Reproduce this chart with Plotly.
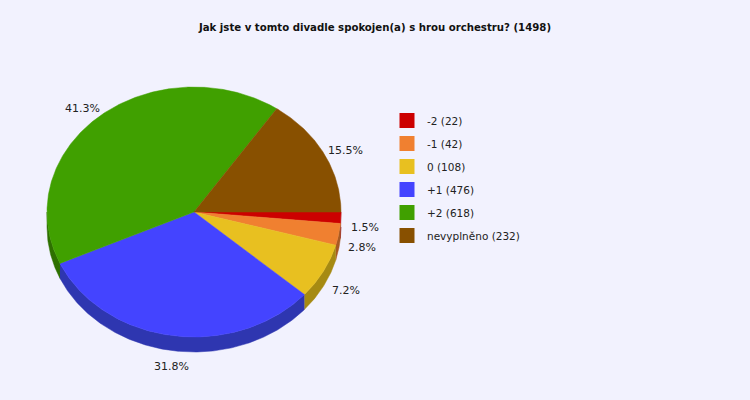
import numpy as np
import plotly.graph_objects as go

title = "Jak jste v tomto divadle spokojen(a) s hrou orchestru? (1498)"
categories = ["-2", "-1", "0", "+1", "+2", "nevyplněno"]
counts = [22, 42, 108, 476, 618, 232]
top_colors = ["#cc0000", "#f08030", "#e8c020", "#4444ff", "#40a000", "#885000"]
side_colors = ["#8e0000", "#a85a22", "#a68a12", "#2e36b0", "#2e7000", "#5f3800"]

# pie geometry in page pixels (y grows downwards)
cx, cy = 194, 212
rx, ry = 147, 125
depth = 15

total = sum(counts)
fracs = np.array(counts) / total
ends = np.cumsum(fracs) * 360
starts = ends - fracs * 360


def arc(a0, a1):
    t = np.radians(np.linspace(a0, a1, max(int(abs(a1 - a0) * 2), 2)))
    return cx + rx * np.cos(t), cy + ry * np.sin(t)


fig = go.Figure()

# sides of the lower half first
for a0, a1, col in zip(starts, ends, side_colors):
    s0, s1 = max(a0, 0), min(a1, 180)
    if s1 <= s0:
        continue
    x, y = arc(s0, s1)
    xs = np.concatenate([x, x[::-1]])
    ys = np.concatenate([y, y[::-1] + depth])
    fig.add_trace(go.Scatter(x=xs, y=ys, fill="toself", fillcolor=col, mode="lines",
                             line=dict(width=0.5, color=col), hoverinfo="skip", showlegend=False))

# top faces
for a0, a1, col, cat, n in zip(starts, ends, top_colors, categories, counts):
    x, y = arc(a0, a1)
    xs = np.concatenate([[cx], x, [cx]])
    ys = np.concatenate([[cy], y, [cy]])
    fig.add_trace(go.Scatter(x=xs, y=ys, fill="toself", fillcolor=col, mode="lines",
                             line=dict(width=0.5, color=col), hoverinfo="text",
                             text=f"{cat} ({n})", showlegend=False))

# legend entries
for col, cat, n in zip(top_colors, categories, counts):
    fig.add_trace(go.Scatter(x=[None], y=[None], mode="markers", name=f"{cat} ({n})",
                             legendgroup=cat,
                             marker=dict(symbol="square", size=15, color=col)))

# percentage labels outside the slices
for a0, a1, f in zip(starts, ends, fracs):
    m = np.radians((a0 + a1) / 2)
    c, s = np.cos(m), np.sin(m)
    lx = cx + rx * c
    ly = cy + (ry + 14) * s
    if s > 0:
        lx += 8 * c
        ly += 9 + 8 * s
    else:
        lx += 2.5 if c > 0 else 3
        ly += 3
    if abs(c) < 0.3:
        anchor = "center"
    elif c > 0:
        anchor = "left"
    else:
        anchor = "right"
    fig.add_annotation(x=lx, y=ly, text=f"{f * 100:.1f}%", showarrow=False,
                       xanchor=anchor, yanchor="middle",
                       font=dict(family="DejaVu Sans", size=11, color="#222222"))

fig.update_layout(
    width=750, height=400,
    margin=dict(l=0, r=0, t=0, b=0),
    paper_bgcolor="#f2f2fe", plot_bgcolor="#f2f2fe",
    title=dict(text=title, x=0.5, xanchor="center", y=1 - 27 / 400, yanchor="middle",
               font=dict(family="DejaVu Sans Condensed", size=11.3, color="#111111", weight="bold")),
    xaxis=dict(range=[0, 750], visible=False, fixedrange=True),
    yaxis=dict(range=[400, 0], visible=False, fixedrange=True),
    legend=dict(x=387 / 750, y=1 - 106 / 400, xanchor="left", yanchor="top",
                bgcolor="rgba(0,0,0,0)", tracegroupgap=4,
                font=dict(family="DejaVu Sans", size=10.5, color="#222222")),
    showlegend=True,
)

fig.write_html("out.html", config={"displayModeBar": False},
               post_script="document.body.style.margin='0';"
                           "document.body.style.background='#f2f2fe';")
